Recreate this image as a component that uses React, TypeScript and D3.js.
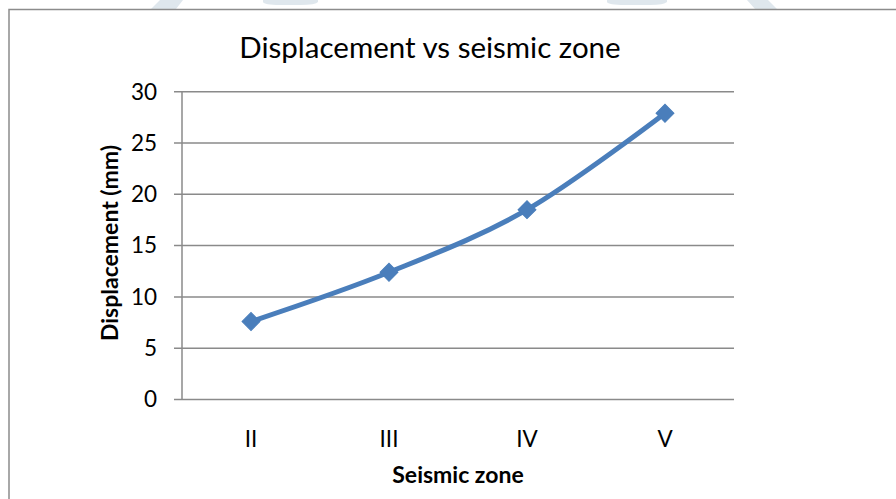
import { useRef, useEffect } from "react";
import * as d3 from "d3";

const zones = ["II", "III", "IV", "V"];
const displacement = [7.6, 12.4, 18.5, 27.9];
const yTicks = [0, 5, 10, 15, 20, 25, 30];

const chartTitle = "Displacement vs seismic zone";
const xTitle = "Seismic zone";
const yTitle = "Displacement (mm)";

export default function App() {
  const svgRef = useRef<SVGSVGElement>(null);

  useEffect(() => {
    const width = 896;
    const height = 499;
    const FONT = "Lato, 'Open Sans', sans-serif";

    // plot bounds
    const left = 182;
    const right = 734;
    const top = 91.7;
    const bottom = 399.5;

    const svg = d3.select(svgRef.current)
      .attr("width", width)
      .attr("height", height);
    svg.selectAll("*").remove();

    svg.append("rect")
      .attr("width", width)
      .attr("height", height)
      .attr("fill", "#fff");

    // faint page decoration above the chart frame
    const deco = svg.append("g").attr("fill", "#dfe7ed");
    deco.append("path").attr("d", "M160,0 L183,0 L176,9 L151,9 Z");
    deco.append("path").attr("d", "M263,0 L318,0 L318,2 Q316,5 300,5 L280,5 Q264,5 263,2 Z");
    deco.append("path").attr("d", "M607,0 L667,0 L667,2 Q664,5 650,5 L625,5 Q608,5 607,2 Z");
    deco.append("path").attr("d", "M747,0 L768,0 L777,9 L755,9 Z");

    // chart frame
    svg.append("rect")
      .attr("x", 9)
      .attr("y", 9.5)
      .attr("width", 920)
      .attr("height", 520)
      .attr("fill", "none")
      .attr("stroke", "#8c8c8c")
      .attr("stroke-width", 1.5);

    const xScale = d3.scaleBand().domain(zones).range([left, right]);
    const yScale = d3.scaleLinear().domain([0, 30]).range([bottom, top]);
    const cx = (d: string) => (xScale(d) ?? 0) + xScale.bandwidth() / 2;

    // gridlines (with tick stubs to the left)
    svg.append("g")
      .selectAll("line")
      .data(yTicks)
      .join("line")
      .attr("x1", left - 8)
      .attr("x2", right)
      .attr("y1", d => yScale(d))
      .attr("y2", d => yScale(d))
      .attr("stroke", "#8a8a8a")
      .attr("stroke-width", 1.5);

    svg.append("line")
      .attr("x1", left)
      .attr("x2", left)
      .attr("y1", top)
      .attr("y2", bottom)
      .attr("stroke", "#8a8a8a")
      .attr("stroke-width", 1.5);

    // y tick labels
    svg.append("g")
      .selectAll("text")
      .data(yTicks)
      .join("text")
      .attr("x", 157)
      .attr("y", d => yScale(d))
      .attr("dy", "0.35em")
      .attr("text-anchor", "end")
      .attr("font-family", FONT)
      .attr("font-size", 22.5)
      .attr("fill", "#000")
      .text(d => d);

    // x tick labels
    svg.append("g")
      .selectAll("text")
      .data(zones)
      .join("text")
      .attr("x", d => cx(d))
      .attr("y", 447)
      .attr("text-anchor", "middle")
      .attr("font-family", FONT)
      .attr("font-size", 22.5)
      .attr("fill", "#000")
      .text(d => d);

    // titles
    svg.append("text")
      .attr("x", 430)
      .attr("y", 58)
      .attr("text-anchor", "middle")
      .attr("font-family", FONT)
      .attr("font-size", 29.5)
      .attr("fill", "#000")
      .text(chartTitle);

    svg.append("text")
      .attr("x", 458)
      .attr("y", 483)
      .attr("text-anchor", "middle")
      .attr("font-family", FONT)
      .attr("font-weight", "bold")
      .attr("font-size", 23)
      .attr("fill", "#000")
      .text(xTitle);

    svg.append("text")
      .attr("transform", "translate(118,243) rotate(-90)")
      .attr("text-anchor", "middle")
      .attr("font-family", FONT)
      .attr("font-weight", "bold")
      .attr("font-size", 23)
      .attr("fill", "#000")
      .text(yTitle);

    // series line
    const points = zones.map((z, i) => ({ x: z, y: displacement[i] }));
    const line = d3.line<{ x: string; y: number }>()
      .x(d => cx(d.x))
      .y(d => yScale(d.y))
      .curve(d3.curveCatmullRom.alpha(0));

    svg.append("path")
      .datum(points)
      .attr("d", line)
      .attr("fill", "none")
      .attr("stroke", "#4a7ebb")
      .attr("stroke-width", 5)
      .attr("stroke-linecap", "round");

    // diamond markers
    svg.append("g")
      .selectAll("path")
      .data(points)
      .join("path")
      .attr("d", d3.symbol().type(d3.symbolSquare).size(160)())
      .attr("transform", d => `translate(${cx(d.x)},${yScale(d.y)}) rotate(45)`)
      .attr("fill", "#4a7ebb")
      .attr("stroke", "#4a7ebb")
      .attr("stroke-width", 1);
  }, []);

  return (
    <svg ref={svgRef} style={{ position: "absolute", left: 0, top: 0 }}></svg>
  );
}
